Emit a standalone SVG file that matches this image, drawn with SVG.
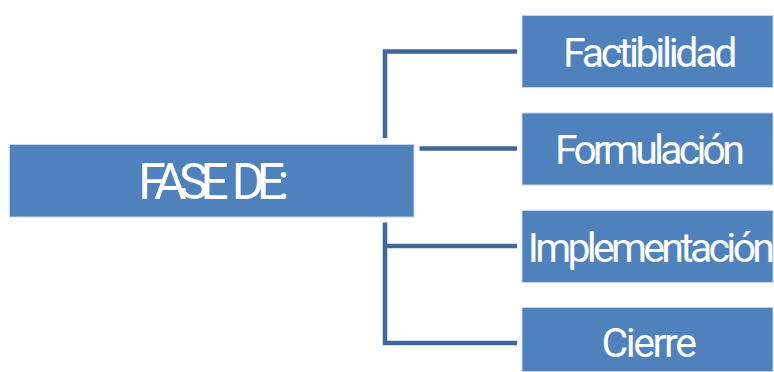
<svg xmlns="http://www.w3.org/2000/svg" width="774" height="372" viewBox="0 0 774 372">
<style>
.box{fill:#4F81BD;stroke:#C5D4EA;stroke-width:1}
.lbl{font-family:"Roboto","Liberation Sans",sans-serif;fill:#FFFFFF;text-anchor:middle}
.sm{font-size:41px}
.big{font-size:50px;letter-spacing:-7.8px;word-spacing:6px}
.ln{stroke:#41679A;stroke-width:4.5;fill:none;stroke-linecap:butt}
</style>
<rect width="774" height="372" fill="#FFFFFF"/>
<g id="connectors">
<polyline class="ln" points="517,51.5 385,51.5 385,138"/>
<line class="ln" x1="419.5" y1="148.5" x2="517" y2="148.5"/>
<polyline class="ln" points="385,222.5 385,343 517,343"/>
<line class="ln" x1="385" y1="246" x2="517" y2="246"/>
</g>
<g id="fase">
<rect class="box" x="9.5" y="144.5" width="404.5" height="72.5"/>
<text class="lbl big" x="210" y="199">FASE DE:</text>
</g>
<g id="factibilidad">
<rect class="box" x="522" y="15.5" width="251" height="72"/>
<text class="lbl sm" x="648.5" y="66.5" letter-spacing="-3.3">Factibilidad</text>
</g>
<g id="formulacion">
<rect class="box" x="522" y="113" width="251" height="72"/>
<text class="lbl sm" x="648" y="164" letter-spacing="-3.8">Formulación</text>
</g>
<g id="implementacion">
<rect class="box" x="522" y="210.5" width="251" height="72"/>
<text class="lbl sm" x="649.5" y="261.5" letter-spacing="-3.7">Implementación</text>
</g>
<g id="cierre">
<rect class="box" x="522" y="307.5" width="251" height="64"/>
<text class="lbl sm" x="648" y="356.5" letter-spacing="-2.4">Cierre</text>
</g>
</svg>
